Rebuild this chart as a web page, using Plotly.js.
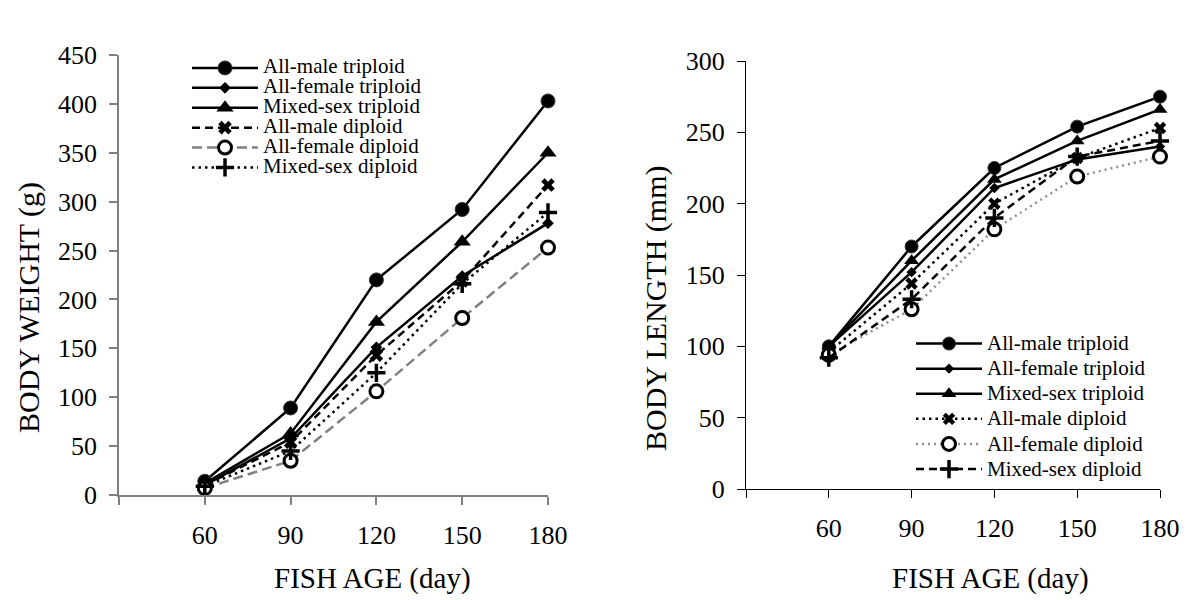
<!DOCTYPE html>
<html>
<head>
<meta charset="utf-8">
<script src="https://cdn.plot.ly/plotly-3.0.1.min.js"></script>
<style>html,body{margin:0;padding:0;background:#fff;}#chart{width:1191px;height:600px;}</style>
</head>
<body>
<div id="chart"></div>
<script>
// ---- data ----
var ages = [60, 90, 120, 150, 180];
var xTickVals = [30, 60, 90, 120, 150, 180];
var xTickText = ['', '60', '90', '120', '150', '180'];
var seriesNames = ['All-male triploid', 'All-female triploid', 'Mixed-sex triploid',
                   'All-male diploid', 'All-female diploid', 'Mixed-sex diploid'];

// Body weight (g)
var wAllMaleTriploid   = [14, 89, 220, 292, 403];
var wAllFemaleTriploid = [10, 58, 151, 224, 278];
var wMixedTriploid     = [12, 63, 177, 259, 350];
var wAllMaleDiploid    = [10, 54, 143, 219, 317];
var wAllFemaleDiploid  = [7, 35, 106, 181, 253];
var wMixedDiploid      = [9, 45, 125, 216, 289];

// Body length (mm)
var lAllMaleTriploid   = [100, 170, 225, 254, 275];
var lAllFemaleTriploid = [100, 152, 211, 231, 240];
var lMixedTriploid     = [100, 160, 217, 244, 266];
var lAllMaleDiploid    = [96, 144, 200, 232, 253];
var lAllFemaleDiploid  = [94, 126, 182, 219, 233];
var lMixedDiploid      = [92, 133, 190, 233, 244];

var FONT = 'Liberation Serif, Times New Roman, serif';
function nm(s){ return '<span style="font-size:21px">' + s + '</span>'; }

var weightSeries = [wAllMaleTriploid, wAllFemaleTriploid, wMixedTriploid, wAllMaleDiploid, wAllFemaleDiploid, wMixedDiploid];
var lengthSeries = [lAllMaleTriploid, lAllFemaleTriploid, lMixedTriploid, lAllMaleDiploid, lAllFemaleDiploid, lMixedDiploid];

var leftStyles = [
  {line:{color:'#000', width:2.5, dash:'solid'}, marker:{symbol:'circle', size:14, color:'#000', line:{color:'#333', width:1}}},
  {line:{color:'#000', width:2.5, dash:'solid'}, marker:{symbol:'diamond', size:9, color:'#000', line:{width:0}}},
  {line:{color:'#000', width:2.5, dash:'solid'}, marker:{symbol:'triangle-up', size:15, color:'#000', line:{width:0}}},
  {line:{color:'#000', width:2.5, dash:'8px,5px'}, marker:{symbol:'x', size:12, color:'#000', line:{width:0}}},
  {line:{color:'#808080', width:2.5, dash:'10px,5px'}, marker:{symbol:'circle', size:13, color:'#fff', line:{color:'#000', width:3}}},
  {line:{color:'#000', width:2.5, dash:'2.5px,4px'}, marker:{symbol:'cross-thin', size:13, color:'#000', line:{color:'#000', width:3.5}}}
];
var rightStyles = [
  {line:{color:'#000', width:2.5, dash:'solid'}, marker:{symbol:'circle', size:13, color:'#000', line:{color:'#333', width:1}}},
  {line:{color:'#000', width:2.5, dash:'solid'}, marker:{symbol:'diamond', size:8, color:'#000', line:{width:0}}},
  {line:{color:'#000', width:2.5, dash:'solid'}, marker:{symbol:'triangle-up', size:13, color:'#000', line:{width:0}}},
  {line:{color:'#000', width:2.5, dash:'2.5px,4px'}, marker:{symbol:'x', size:11, color:'#000', line:{width:0}}},
  {line:{color:'#909090', width:2.5, dash:'2px,4px'}, marker:{symbol:'circle', size:13, color:'#fff', line:{color:'#000', width:3}}},
  {line:{color:'#000', width:2.5, dash:'8px,5px'}, marker:{symbol:'cross-thin', size:13, color:'#000', line:{color:'#000', width:3.5}}}
];

var traces = [];
for (var i = 0; i < 6; i++) {
  traces.push({
    x: ages, y: weightSeries[i], name: nm(seriesNames[i]), type: 'scatter', mode: 'lines+markers',
    xaxis: 'x', yaxis: 'y', legend: 'legend',
    line: leftStyles[i].line, marker: leftStyles[i].marker, cliponaxis: false
  });
}
for (var j = 0; j < 6; j++) {
  traces.push({
    x: ages, y: lengthSeries[j], name: nm(seriesNames[j]), type: 'scatter', mode: 'lines+markers',
    xaxis: 'x2', yaxis: 'y2', legend: 'legend2',
    line: rightStyles[j].line, marker: rightStyles[j].marker, cliponaxis: false
  });
}

var W = 1191, H = 600;
function px(v){ return v / W; }
function py(v){ return (H - v) / H; }

var axCommon = {
  showgrid: false, zeroline: false, showline: true, ticks: 'outside',
  tickfont: {family: FONT, size: 26, color: '#000'}, automargin: false, fixedrange: true
};

var layout = {
  width: W, height: H,
  margin: {l: 0, r: 0, t: 0, b: 0},
  paper_bgcolor: '#fff', plot_bgcolor: '#fff',
  font: {family: FONT, color: '#000'},
  showlegend: true,
  xaxis: Object.assign({}, axCommon, {
    domain: [px(119), px(548)], range: [30, 180], tickvals: xTickVals, ticktext: xTickText,
    linecolor: '#808080', linewidth: 1.5, tickcolor: '#808080', tickwidth: 1.5, ticklen: 8, anchor: 'y',
    ticklabelstandoff: 8
  }),
  yaxis: Object.assign({}, axCommon, {
    domain: [py(495), py(55)], range: [0, 450], dtick: 50, tick0: 0,
    linecolor: '#808080', linewidth: 1.5, tickcolor: '#808080', tickwidth: 1.5, ticklen: 8, anchor: 'x',
    ticklabelstandoff: 7
  }),
  xaxis2: Object.assign({}, axCommon, {
    domain: [px(746), px(1160)], range: [30, 180], tickvals: xTickVals, ticktext: xTickText,
    linecolor: '#000', linewidth: 1, tickcolor: '#000', tickwidth: 1, ticklen: 8, anchor: 'y2',
    ticklabelstandoff: 8
  }),
  yaxis2: Object.assign({}, axCommon, {
    domain: [py(489), py(61)], range: [0, 300], dtick: 50, tick0: 0,
    linecolor: '#000', linewidth: 1, tickcolor: '#000', tickwidth: 1, ticklen: 8, anchor: 'x2',
    ticklabelstandoff: 7
  }),
  legend: {
    x: px(187), y: py(53), xanchor: 'left', yanchor: 'top',
    bgcolor: 'rgba(0,0,0,0)', borderwidth: 0, itemwidth: 66,
    font: {family: FONT, size: 13, color: '#000'}, itemclick: false, itemdoubleclick: false
  },
  legend2: {
    x: px(911), y: py(326), xanchor: 'left', yanchor: 'top',
    bgcolor: 'rgba(0,0,0,0)', borderwidth: 0, itemwidth: 66,
    font: {family: FONT, size: 17, color: '#000'}, itemclick: false, itemdoubleclick: false
  },
  annotations: [
    {text: 'FISH AGE (day)', xref: 'paper', yref: 'paper', x: px(372), y: py(578), xanchor: 'center', yanchor: 'middle', showarrow: false, font: {family: FONT, size: 29, color: '#000'}},
    {text: 'FISH AGE (day)', xref: 'paper', yref: 'paper', x: px(990), y: py(578), xanchor: 'center', yanchor: 'middle', showarrow: false, font: {family: FONT, size: 29, color: '#000'}},
    {text: 'BODY WEIGHT (g)', xref: 'paper', yref: 'paper', x: px(29), y: py(308), xanchor: 'center', yanchor: 'middle', textangle: -90, showarrow: false, font: {family: FONT, size: 30, color: '#000'}},
    {text: 'BODY LENGTH (mm)', xref: 'paper', yref: 'paper', x: px(656), y: py(308), xanchor: 'center', yanchor: 'middle', textangle: -90, showarrow: false, font: {family: FONT, size: 30, color: '#000'}}
  ]
};

Plotly.newPlot('chart', traces, layout, {displayModeBar: false, staticPlot: false});
</script>
</body>
</html>
